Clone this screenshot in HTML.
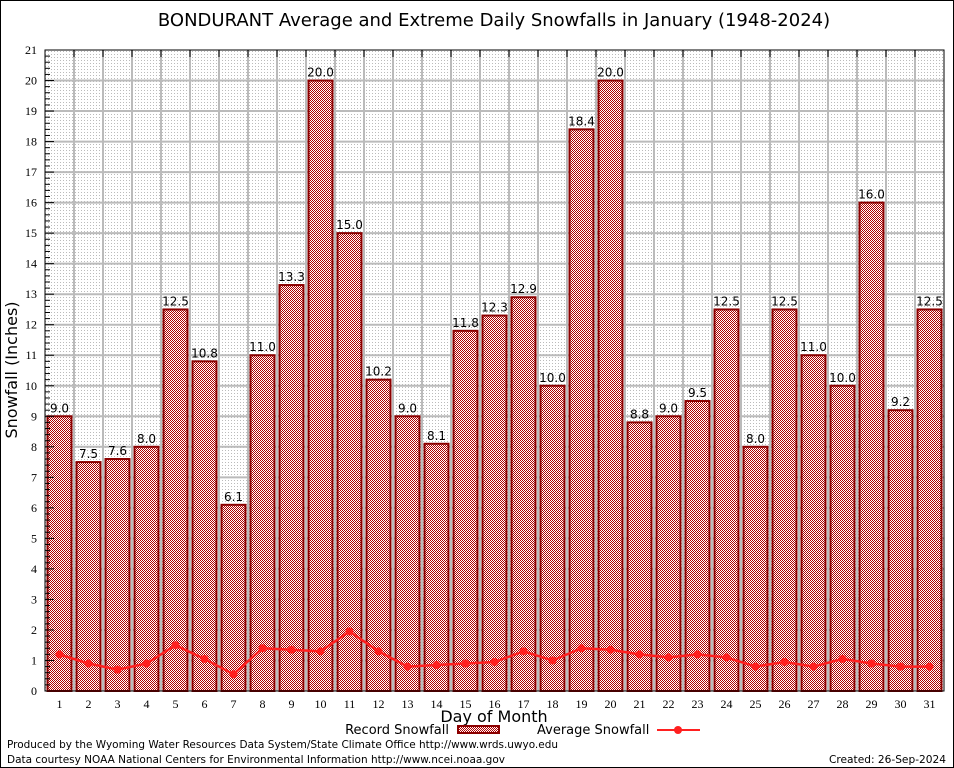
<!DOCTYPE html>
<html><head><meta charset="utf-8">
<style>
html,body{margin:0;padding:0;background:#fff;}
svg{display:block;font-family:"DejaVu Sans","Liberation Sans",sans-serif;}
</style></head>
<body>
<svg id="chart" width="954" height="768" viewBox="0 0 954 768">
<defs>
<pattern id="bgpat" width="3" height="3" patternUnits="userSpaceOnUse">
<rect width="3" height="3" fill="#fff"/><rect width="1" height="1" fill="#bbb"/>
</pattern>
<pattern id="barpat" width="2" height="2" patternUnits="userSpaceOnUse">
<rect width="2" height="2" fill="#fff"/><rect width="1" height="1" fill="#b00000"/><rect x="1" y="1" width="1" height="1" fill="#b00000"/>
</pattern>
</defs>
<rect x="0.5" y="0.5" width="953" height="767" fill="#fff" stroke="#000"/>
<text x="494" y="26" font-size="18" text-anchor="middle">BONDURANT Average and Extreme Daily Snowfalls in January (1948-2024)</text>
<rect x="45" y="50" width="899" height="641" fill="url(#bgpat)"/>
<g id="grid"></g>
<g id="bars"></g>
<g id="avg"></g>
<g id="axes"></g>
<text transform="translate(17,370) rotate(-90)" font-size="16" text-anchor="middle">Snowfall (Inches)</text>
<text x="494" y="722" font-size="16" text-anchor="middle">Day of Month</text>
<g>
<text x="449" y="734" font-size="13" text-anchor="end">Record Snowfall</text>
<rect x="458" y="726" width="41" height="7" fill="url(#barpat)" stroke="#8b0000" stroke-width="2"/>
<text x="537" y="734" font-size="13">Average Snowfall</text>
<line x1="657" y1="730" x2="700" y2="730" stroke="#ff2020" stroke-width="2"/>
<circle cx="678" cy="730" r="4" fill="#ff2020"/>
</g>
<text x="7" y="748" font-size="11" textLength="551" lengthAdjust="spacingAndGlyphs">Produced by the Wyoming Water Resources Data System/State Climate Office http://www.wrds.uwyo.edu</text>
<text x="7" y="763" font-size="11" textLength="498" lengthAdjust="spacingAndGlyphs">Data courtesy NOAA National Centers for Environmental Information http://www.ncei.noaa.gov</text>
<text x="829" y="763" font-size="11" textLength="117" lengthAdjust="spacingAndGlyphs">Created: 26-Sep-2024</text>
</svg>
<script>
const days = [1,2,3,4,5,6,7,8,9,10,11,12,13,14,15,16,17,18,19,20,21,22,23,24,25,26,27,28,29,30,31];
const recordSnow = [9.0,7.5,7.6,8.0,12.5,10.8,6.1,11.0,13.3,20.0,15.0,10.2,9.0,8.1,11.8,12.3,12.9,10.0,18.4,20.0,8.8,9.0,9.5,12.5,8.0,12.5,11.0,10.0,16.0,9.2,12.5];
const avgSnow = [1.2,0.9,0.7,0.9,1.5,1.05,0.55,1.4,1.35,1.3,1.95,1.3,0.8,0.85,0.9,0.95,1.3,1.0,1.4,1.35,1.2,1.1,1.2,1.1,0.8,0.95,0.8,1.05,0.9,0.8,0.8];
const yTicks = [0,1,2,3,4,5,6,7,8,9,10,11,12,13,14,15,16,17,18,19,20,21];

const NS="http://www.w3.org/2000/svg";
const L=45,T=50,W=899,H=641,YMAX=21,STEP=W/days.length;
function xC(i){return L+STEP*(i+0.5);}
function yS(v){return T+H-v/YMAX*H;}
function mk(tag,attrs,parent){const e=document.createElementNS(NS,tag);for(const k in attrs)e.setAttribute(k,attrs[k]);parent.appendChild(e);return e;}
const grid=document.getElementById('grid'),bars=document.getElementById('bars'),avg=document.getElementById('avg'),axes=document.getElementById('axes');

yTicks.forEach(v=>{
  if(v>0&&v<YMAX){const g=mk('line',{x1:L,x2:L+W,y1:yS(v),y2:yS(v),stroke:'#bbb','stroke-width':2},grid);
  
  }
  const t=mk('text',{x:L-8,y:yS(v)+4,'font-size':12,'text-anchor':'end','font-family':'Liberation Serif,serif'},axes);
  t.textContent=v;
  
  
  const tk=mk('line',{x1:L,x2:L+9,y1:yS(v),y2:yS(v),stroke:'#000'},axes);
  
  
  if(v<YMAX){for(let m=1;m<5;m++){const mv=v+m*0.2;const mt=mk('line',{x1:L,x2:L+5,y1:yS(mv),y2:yS(mv),stroke:'#000'},axes);
    
    }}
});
days.forEach((d,i)=>{
  if(i>0){const g=mk('line',{x1:L+STEP*i,x2:L+STEP*i,y1:T,y2:T+H,stroke:'#bbb','stroke-width':2},grid);
  
  
  const tk=mk('line',{x1:L+STEP*i,x2:L+STEP*i,y1:T,y2:T+7,stroke:'#000'},axes);
  
  }
  const t=mk('text',{x:xC(i),y:708,'font-size':12,'text-anchor':'middle','font-family':'Liberation Serif,serif'},axes);
  t.textContent=d;
  
  
  const v=recordSnow[i];
  const b=mk('rect',{x:xC(i)-12,y:yS(v),width:24,height:yS(0)-yS(v),fill:'url(#barpat)',stroke:'#8b0000','stroke-width':2},bars);
  
  
  const lb=mk('text',{x:xC(i),y:yS(v)-4,'font-size':12,'text-anchor':'middle'},bars);
  lb.textContent=v.toFixed(1);
  
  
});
const pts=avgSnow.map((v,i)=>xC(i)+','+yS(v)).join(' ');
const pl=mk('polyline',{points:pts,fill:'none',stroke:'#ff2020','stroke-width':2.5},avg);


avgSnow.forEach((v,i)=>{const c=mk('circle',{cx:xC(i),cy:yS(v),r:4,fill:'#ff2020'},avg);
  
  });
const bx=mk('rect',{x:L,y:T,width:W,height:H,fill:'none',stroke:'#000','stroke-width':1},axes);


</script>
</body></html>
